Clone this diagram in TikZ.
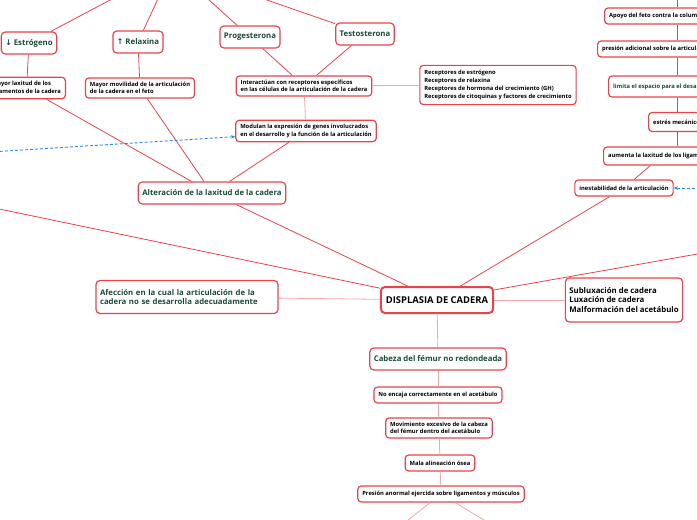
\documentclass[tikz,border=0pt]{standalone}
\usepackage{fontspec}
\setmainfont{Open Sans}
\newfontfamily\arrowfont{DejaVu Sans}
\usetikzlibrary{arrows.meta, calc}

\definecolor{mmred}{HTML}{E8434B}
\definecolor{mmpink}{HTML}{F4A5AA}
\definecolor{mmgreen}{HTML}{1C4B3C}
\definecolor{mmblue}{HTML}{2E86E6}

\begin{document}
\begin{tikzpicture}[
  x=1pt, y=-1pt,
  topic/.style={rectangle, rounded corners=4pt, draw=mmred, line width=1.2pt, fill=white,
                text=mmgreen, font=\fontsize{7.8}{9.6}\selectfont\bfseries, align=left,
                minimum height=22pt, inner xsep=4pt},
  fact/.style={rectangle, rounded corners=3.5pt, draw=mmred, line width=1.2pt, fill=white,
               text=black, font=\fontsize{5.8}{7.6}\selectfont\bfseries, align=left,
               minimum height=16pt, inner xsep=4.5pt, inner ysep=4pt},
  core/.style={rectangle, rounded corners=4pt, draw=mmred, line width=2pt, fill=white,
               text=black, font=\fontsize{9.4}{11}\selectfont\bfseries,
               minimum height=26pt, inner xsep=5pt},
  link/.style={draw=#1, line width=0.8pt},
  link/.default=mmred,
  cross/.style={draw=mmblue, line width=0.9pt, dash pattern=on 3pt off 2pt,
                -{Stealth[length=4pt, width=3.5pt]}},
]

\path[use as bounding box, clip] (0,0) rectangle (697,520);

% ── Hormonas (arriba) ────────────────────────────────────────────────
\node[topic] (estro)  at (29, 43)  {{\arrowfont ↓} Estrógeno};
\node[topic] (relax)  at (138, 42) {{\arrowfont ↑} Relaxina};
\node[topic] (proges) at (250, 37) {Progesterona};
\node[topic] (testo)  at (365, 34) {Testosterona};

% extremos libres fuera del cuadro
\coordinate (cEstro)  at (129, -10);
\coordinate (cRelax)  at (162, -10);
\coordinate (cProges) at (198, -10);
\coordinate (cTesto)  at (238, -10);

% ── Efectos de las hormonas ──────────────────────────────────────────
\node[fact, anchor=east] (laxlig) at (66, 88)
  {Mayor laxitud de los\\ligamentos de la cadera};
\node[fact] (movil)   at (140, 88)
  {Mayor movilidad de la articulación\\de la cadera en el feto};
\node[fact] (interac) at (304, 86)
  {Interactúan con receptores específicos\\en las células de la articulación de la cadera};
\node[fact, inner ysep=5pt, font=\fontsize{5.8}{7.8}\selectfont\bfseries] (recep) at (498, 85)
  {Receptores de estrógeno\\Receptores de relaxina\\Receptores de hormona del crecimiento (GH)\\Receptores de citoquinas y factores de crecimiento};
\node[fact] (modul)   at (306, 131)
  {Modulan la expresión de genes involucrados\\en el desarrollo y la función de la articulación};

\node[topic] (alter) at (212, 193) {Alteración de la laxitud de la cadera};

% ── Nodo central ─────────────────────────────────────────────────────
\node[core]  (displ)  at (437, 300) {DISPLASIA DE CADERA};
\node[topic, text width=174pt, minimum height=33pt] (afecc) at (187, 297)
  {Afección en la cual la articulación de la\\cadera no se desarrolla adecuadamente};
\node[topic, text=black, minimum height=44pt] (sublux) at (624, 300)
  {Subluxación de cadera\\Luxación de cadera\\Malformación del acetábulo};

\coordinate (cLeft)  at (-20, 205);
\coordinate (cRight) at (720, 250);

% ── Columna derecha (cortada por el borde) ───────────────────────────
\coordinate (cCol) at (677, 0);
\coordinate (cTop) at (677, -10);
\node[fact, anchor=west] (apoyo)   at (604, 16)  {Apoyo del feto contra la columna};
\node[fact, anchor=west] (presion) at (597, 49)  {presión adicional sobre la articulación};
\node[fact, anchor=west, text=mmgreen, minimum height=21pt] (limita) at (608, 86.5)
  {limita el espacio para el desarrollo};
\node[fact, anchor=west, minimum height=19pt] (estres)  at (648, 122) {estrés mecánico};
\node[fact, anchor=west, minimum height=18pt] (aumenta) at (603, 156)
  {aumenta la laxitud de los ligamentos};
\node[fact] (inest) at (624, 188) {inestabilidad de la articulación};

% ── Cadena inferior ──────────────────────────────────────────────────
\node[topic] (cabeza) at (438, 359) {Cabeza del fémur no redondeada};
\node[fact]  (noenc)  at (438, 395) {No encaja correctamente en el acetábulo};
\node[fact]  (movim)  at (439, 428)
  {Movimiento excesivo de la cabeza\\del fémur dentro del acetábulo};
\node[fact]  (mala)   at (440, 463) {Mala alineación ósea};
\node[fact]  (presab) at (441, 494) {Presión anormal ejercida sobre ligamentos y músculos};

\coordinate (cDownL) at (383, 540);
\coordinate (cDownR) at (517, 540);

% ── Conexiones ───────────────────────────────────────────────────────
\draw[link] (cEstro) -- (estro);
\draw[link] (cRelax) -- (relax);
\draw[link] (cProges) -- (proges);
\draw[link] (cTesto) -- (testo);

\draw[link] (estro) -- (laxlig);
\draw[link] (relax) -- (movil);
\draw[link] (proges) -- (interac);
\draw[link] (testo) -- (interac);
\draw[link=mmpink] (interac) -- (recep);
\draw[link=mmpink] (interac) -- (modul);

\draw[link] (laxlig) -- (alter);
\draw[link] (movil) -- (alter);
\draw[link] (modul) -- (alter);
\draw[link] (alter) -- (displ);

\draw[link] (cLeft) -- (displ);
\draw[link] (cRight) -- (displ);
\draw[link=mmpink] (displ) -- (afecc);
\draw[link=mmpink] (displ) -- (sublux);

\draw[link] (cTop) -- (apoyo.north -| cCol);
\draw[link] (apoyo.south -| cCol) -- (presion.north -| cCol);
\draw[link] (presion.south -| cCol) -- (limita.north -| cCol);
\draw[link] (limita.south -| cCol) -- (estres.north -| cCol);
\draw[link] (estres.south -| cCol) -- (aumenta.north -| cCol);
\draw[link] (inest) -- (aumenta);
\draw[link] (inest) -- (displ);

\draw[link=mmpink] (displ) -- (cabeza);
\draw[link=mmpink] (cabeza) -- (noenc);
\draw[link=mmpink] (noenc) -- (movim);
\draw[link=mmpink] (movim) -- (mala);
\draw[link=mmpink] (mala) -- (presab);
\draw[link=mmpink] (presab) -- (cDownL);
\draw[link=mmpink] (presab) -- (cDownR);

% ── Relaciones (azul, discontinuas) ──────────────────────────────────
\coordinate (cBlueL) at (-10, 152);
\coordinate (cBlueR) at (710, 188);
\draw[cross] (cBlueL) -- ($(modul.west)!0.5!(modul.south west)$);
\draw[cross] (cBlueR) -- (inest.east);

\end{tikzpicture}
\end{document}
